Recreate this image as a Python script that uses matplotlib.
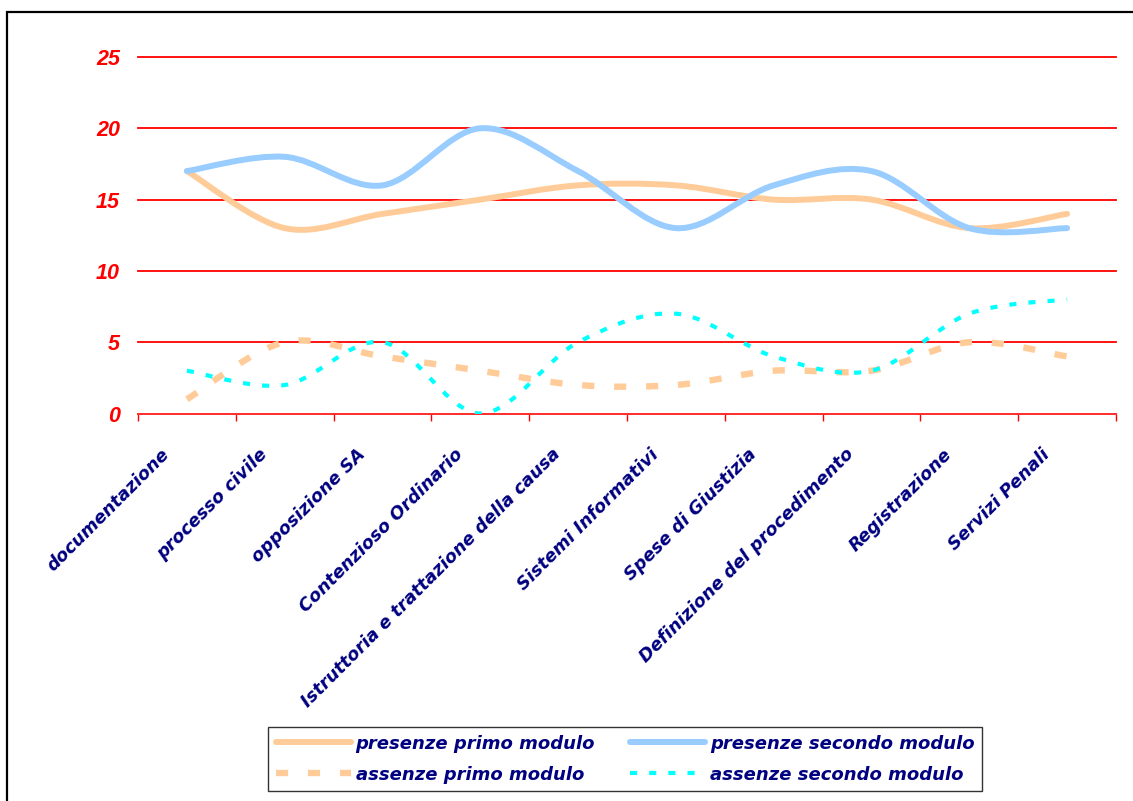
import numpy as np
import matplotlib.pyplot as plt
from matplotlib.path import Path
from matplotlib.patches import PathPatch, Rectangle
from matplotlib.lines import Line2D
from matplotlib.transforms import ScaledTranslation

# ---------------------- Data ---------------------- #
categories = [
    'documentazione', 'processo civile', 'opposizione SA', 'Contenzioso Ordinario',
    'Istruttoria e trattazione della causa', 'Sistemi Informativi', 'Spese di Giustizia',
    'Definizione del procedimento', 'Registrazione', 'Servizi Penali'
]
presenze_primo = [17, 13, 14, 15, 16, 16, 15, 15, 13, 14]
presenze_secondo = [17, 18, 16, 20, 17, 13, 16, 17, 13, 13]
assenze_primo = [1, 5, 4, 3, 2, 2, 3, 3, 5, 4]
assenze_secondo = [3, 2, 5, 0, 5, 7, 4, 3, 7, 8]
y_ticks = [0, 5, 10, 15, 20, 25]

NAVY = '#000080'
cat_font = dict(family='DejaVu Sans', weight='bold', style='italic', size=12.8)
leg_font = dict(family='DejaVu Sans', weight='bold', style='italic', size=13)


def smooth_path(xs, ys):
    """Bezier path through the points (Excel-like smoothed line)."""
    pts = np.column_stack([xs, ys]).astype(float)
    n = len(pts)
    verts = [pts[0]]
    codes = [Path.MOVETO]
    for i in range(n - 1):
        p_prev = pts[max(i - 1, 0)]
        p0, p1 = pts[i], pts[i + 1]
        p_next = pts[min(i + 2, n - 1)]
        c1 = p0 + (p1 - p_prev) / 6.0
        c2 = p1 - (p_next - p0) / 6.0
        verts += [c1, c2, p1]
        codes += [Path.CURVE4] * 3
    return Path(verts, codes)


# ---------------------- Figure ---------------------- #
W, H = 1133, 801
fig = plt.figure(figsize=(W / 100, H / 100), dpi=100)
fig.patch.set_facecolor('white')

left, right, top, bottom = 138, 1116, 57, 413.5
ax = fig.add_axes([left / W, 1 - bottom / H, (right - left) / W, (bottom - top) / H])

x = np.arange(len(categories))

series = [
    (presenze_primo, 'presenze primo modulo', '#FFCC99', 4.3, '-', 'round'),
    (presenze_secondo, 'presenze secondo modulo', '#99CCFF', 4.3, '-', 'round'),
    (assenze_primo, 'assenze primo modulo', '#FFCC99', 4.6, (0, (1.9, 3.1)), 'butt'),
    (assenze_secondo, 'assenze secondo modulo', '#00FFFF', 3.0, (0, (1.7, 2.9)), 'butt'),
]

handles = {}
for vals, name, color, lw, ls, cap in series:
    patch = PathPatch(smooth_path(x, vals), fill=False, edgecolor=color,
                      linewidth=lw, linestyle=ls, capstyle=cap, joinstyle='round',
                      zorder=3)
    ax.add_patch(patch)
    handles[name] = Line2D([], [], color=color, lw=lw, ls=ls,
                           solid_capstyle=cap, dash_capstyle=cap)

ax.set_xlim(-0.5, len(categories) - 0.5)
ax.set_ylim(0, 25)

# y axis: red numbers and red horizontal grid
ax.set_yticks(y_ticks)
ax.set_yticklabels([str(v) for v in y_ticks])
ax.tick_params(axis='y', length=0, pad=13, labelcolor='red')
for lab in ax.get_yticklabels():
    lab.set_fontfamily('Liberation Sans')
    lab.set_fontweight('bold')
    lab.set_fontstyle('italic')
    lab.set_fontsize(15.5)
ax.yaxis.grid(True, color='red', linewidth=1.3)
for gl in ax.get_ygridlines():
    gl.set_clip_on(False)
ax.set_axisbelow(True)

# x axis: tick marks between categories, labels at category centres
ax.set_xticks(np.arange(-0.5, len(categories), 1.0))
ax.set_xticklabels([])
ax.tick_params(axis='x', which='major', length=5, width=1, color='red', direction='out')
ax.set_xticks(x, minor=True)
ax.set_xticklabels(categories, minor=True, rotation=45, ha='right', va='center',
                   rotation_mode='anchor', color=NAVY, **cat_font)
ax.tick_params(axis='x', which='minor', length=0, pad=0)
offset = ScaledTranslation(-20 / 100, -38 / 100, fig.dpi_scale_trans)
for lab in ax.get_xticklabels(minor=True):
    lab.set_transform(lab.get_transform() + offset)

for side in ['left', 'top', 'right']:
    ax.spines[side].set_visible(False)
ax.spines['bottom'].set_color('#FF3333')
ax.spines['bottom'].set_linewidth(1.3)

# ---------------------- Legend ---------------------- #
order = ['presenze primo modulo', 'assenze primo modulo',
         'presenze secondo modulo', 'assenze secondo modulo']
leg = fig.legend([handles[k] for k in order], order, ncol=2,
                 loc='upper left', bbox_to_anchor=(268 / W, 1 - 727 / H),
                 prop=leg_font, frameon=True, fancybox=False, shadow=False,
                 handlelength=4.15, handletextpad=0.28, columnspacing=1.95,
                 labelspacing=0.72, borderpad=0.42, borderaxespad=0)
leg.get_frame().set_edgecolor('black')
leg.get_frame().set_linewidth(1.0)
for t in leg.get_texts():
    t.set_color(NAVY)

# outer chart border
fig.add_artist(Rectangle((7 / W, -0.1), 1.2, (H - 12) / H + 0.1, transform=fig.transFigure,
                         fill=False, edgecolor='black', linewidth=1.6))

fig.savefig('out.png', dpi=100)
